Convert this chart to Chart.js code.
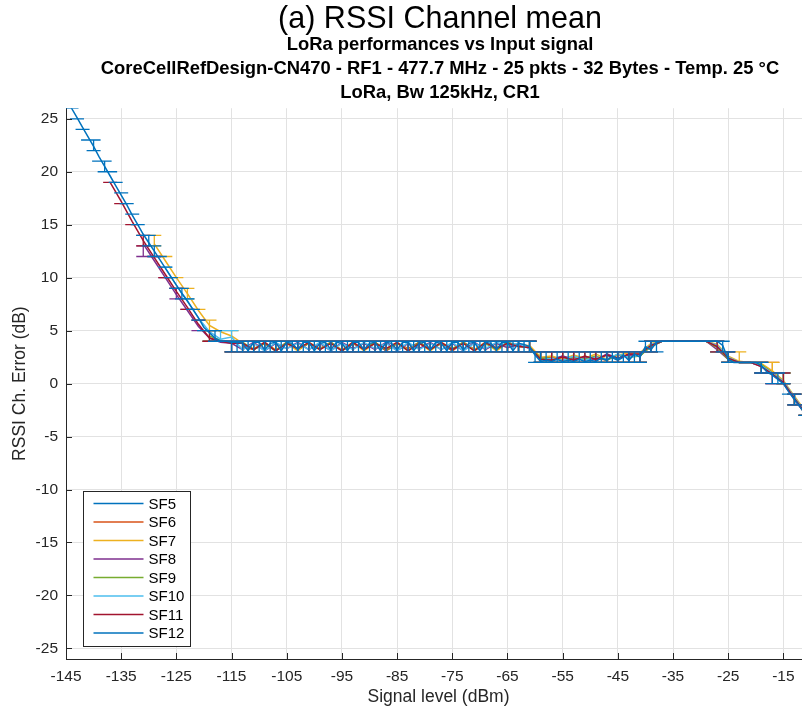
<!DOCTYPE html>
<html>
<head>
<meta charset="utf-8">
<script src="https://cdn.jsdelivr.net/npm/chart.js@4.4.1/dist/chart.umd.min.js"></script>
<style>
  html, body { margin: 0; padding: 0; overflow: hidden; background: #fff; }
  canvas { display: block; }
</style>
</head>
<body>
<canvas id="rssiChart" width="880" height="710"></canvas>
<script>
// tick labels
const xTicks = [-145, -135, -125, -115, -105, -95, -85, -75, -65, -55, -45, -35, -25, -15];
const yTicks = [-25, -20, -15, -10, -5, 0, 5, 10, 15, 20, 25];

// series names and first signal level of each sweep (dBm)
const sfNames = ['SF5', 'SF6', 'SF7', 'SF8', 'SF9', 'SF10', 'SF11', 'SF12'];
const sfStart = [-111, -113, -129, -131, -119, -127, -137, -145];
const sfStep = [2, 2, 2, 2, 2, 2, 2, 1];

// SF5
const sf5Mean = [3.2, 3.8, 3.1, 3.9, 3.2, 3.8, 3.3, 3.9, 3.1, 3.8, 3.2, 3.9, 3.1, 3.8, 3.3, 3.9, 3.2, 3.8, 3.1, 3.9, 3.2, 3.8, 3.3, 3.9, 3.6,
  3.4, 2.3, 2.3, 2.6, 2.2, 2.5, 2.3, 2.7, 2.2, 2.8, 2.7, 3.6, 4.0, 4.0, 4.0, 4.0, 4.0,
  3.5, 2.3, 2.0, 2.0, 1.7, 1.0, 0.1, -1.4, -2.8];
const sf5Lo = [3, 3, 3, 3, 3, 3, 3, 3, 3, 3, 3, 3, 3, 3, 3, 3, 3, 3, 3, 3, 3, 3, 3, 3, 3,
  3, 2, 2, 2, 2, 2, 2, 2, 2, 2, 2, 3, 4, 4, 4, 4, 4,
  3, 2, 2, 2, 1, 1, 0, -2, -3];
const sf5Hi = [4, 4, 4, 4, 4, 4, 4, 4, 4, 4, 4, 4, 4, 4, 4, 4, 4, 4, 4, 4, 4, 4, 4, 4, 4,
  4, 3, 3, 3, 3, 3, 3, 3, 3, 3, 3, 4, 4, 4, 4, 4, 4,
  4, 3, 2, 2, 2, 1, 1, -1, -2];

// SF6
const sf6Mean = [3.5, 3.2, 3.8, 3.1, 3.9, 3.2, 3.8, 3.3, 3.9, 3.1, 3.8, 3.2, 3.9, 3.1, 3.8, 3.3, 3.9, 3.2, 3.8, 3.1, 3.9, 3.2, 3.8, 3.4, 3.7, 3.5,
  3.5, 2.4, 2.5, 2.2, 2.6, 2.3, 2.4, 2.2, 2.7, 2.6, 2.6, 3.6, 4.0, 4.0, 4.0, 4.0, 4.0,
  3.6, 2.4, 2.0, 2.0, 1.8, 1.1, 0.2, -1.3, -2.7];
const sf6Lo = [3, 3, 3, 3, 3, 3, 3, 3, 3, 3, 3, 3, 3, 3, 3, 3, 3, 3, 3, 3, 3, 3, 3, 3, 3, 3,
  3, 2, 2, 2, 2, 2, 2, 2, 2, 2, 2, 3, 4, 4, 4, 4, 4,
  3, 2, 2, 2, 1, 1, 0, -2, -3];
const sf6Hi = [4, 4, 4, 4, 4, 4, 4, 4, 4, 4, 4, 4, 4, 4, 4, 4, 4, 4, 4, 4, 4, 4, 4, 4, 4, 4,
  4, 3, 3, 3, 3, 3, 3, 3, 3, 3, 3, 4, 4, 4, 4, 4, 4,
  4, 3, 2, 2, 2, 2, 1, -1, -2];

// SF7
const sf7Mean = [13.2, 11.6, 10.0, 8.5, 6.9, 5.5, 4.9, 4.5,
  3.8, 3.3, 3.9, 3.2, 3.8, 3.1, 3.9, 3.3, 3.8, 3.2, 3.9, 3.1, 3.8, 3.3, 3.9, 3.2, 3.8, 3.1, 3.9, 3.3, 3.8, 3.2, 3.9, 3.1, 3.8, 3.6,
  3.6, 2.5, 2.6, 2.3, 2.7, 2.4, 2.8, 2.3, 2.7, 2.9, 2.9, 3.8, 4.0, 4.0, 4.0, 4.0, 4.0,
  3.7, 2.6, 2.1, 2.0, 1.9, 1.2, 0.3, -1.2, -2.6];
const sf7Lo = [13, 12, 10, 8, 7, 5, 5, 4,
  3, 3, 3, 3, 3, 3, 3, 3, 3, 3, 3, 3, 3, 3, 3, 3, 3, 3, 3, 3, 3, 3, 3, 3, 3, 3,
  3, 2, 2, 2, 2, 2, 2, 2, 2, 2, 2, 3, 4, 4, 4, 4, 4,
  3, 2, 2, 2, 1, 1, 0, -2, -3];
const sf7Hi = [14, 12, 10, 9, 7, 6, 5, 5,
  4, 4, 4, 4, 4, 4, 4, 4, 4, 4, 4, 4, 4, 4, 4, 4, 4, 4, 4, 4, 4, 4, 4, 4, 4, 4,
  4, 3, 3, 3, 3, 3, 3, 3, 3, 3, 3, 4, 4, 4, 4, 4, 4,
  4, 3, 3, 2, 2, 2, 1, -1, -2];

// SF8
const sf8Mean = [13.2, 11.6, 10.0, 8.4, 6.9, 5.4, 4.3, 3.9, 3.8,
  3.2, 3.9, 3.1, 3.8, 3.3, 3.9, 3.2, 3.8, 3.1, 3.9, 3.3, 3.8, 3.2, 3.9, 3.1, 3.8, 3.3, 3.9, 3.2, 3.8, 3.1, 3.9, 3.2, 3.8, 3.4, 3.7,
  3.3, 2.3, 2.2, 2.6, 2.3, 2.5, 2.2, 2.8, 2.4, 2.7, 2.7, 3.5, 4.0, 4.0, 4.0, 4.0, 4.0,
  3.2, 2.3, 2.0, 2.0, 1.6, 0.9, 0.0, -1.5, -2.9];
const sf8Lo = [12, 12, 10, 8, 7, 5, 4, 4, 3,
  3, 3, 3, 3, 3, 3, 3, 3, 3, 3, 3, 3, 3, 3, 3, 3, 3, 3, 3, 3, 3, 3, 3, 3, 3, 3,
  3, 2, 2, 2, 2, 2, 2, 2, 2, 2, 2, 3, 4, 4, 4, 4, 4,
  3, 2, 2, 2, 1, 0, 0, -2, -3];
const sf8Hi = [13, 12, 10, 9, 7, 5, 4, 4, 4,
  4, 4, 4, 4, 4, 4, 4, 4, 4, 4, 4, 4, 4, 4, 4, 4, 4, 4, 4, 4, 4, 4, 4, 4, 4, 4,
  4, 3, 3, 3, 3, 3, 3, 3, 3, 3, 3, 4, 4, 4, 4, 4, 4,
  4, 3, 2, 2, 2, 1, 0, -1, -3];

// SF9
const sf9Mean = [4.5, 4.1, 3.9,
  3.9, 3.2, 3.8, 3.1, 3.9, 3.3, 3.8, 3.2, 3.9, 3.1, 3.8, 3.3, 3.9, 3.2, 3.8, 3.1, 3.9, 3.2, 3.8, 3.3, 3.9, 3.1, 3.8, 3.2, 3.9, 3.5,
  3.4, 2.4, 2.4, 2.2, 2.5, 2.3, 2.6, 2.2, 2.8, 2.5, 2.6, 3.5, 4.0, 4.0, 4.0, 4.0, 4.0,
  3.4, 2.3, 2.0, 2.0, 1.8, 1.0, 0.1, -1.4, -2.9];
const sf9Lo = [4, 4, 3,
  3, 3, 3, 3, 3, 3, 3, 3, 3, 3, 3, 3, 3, 3, 3, 3, 3, 3, 3, 3, 3, 3, 3, 3, 3, 3,
  3, 2, 2, 2, 2, 2, 2, 2, 2, 2, 2, 3, 4, 4, 4, 4, 4,
  3, 2, 2, 2, 1, 1, 0, -2, -3];
const sf9Hi = [5, 4, 4,
  4, 4, 4, 4, 4, 4, 4, 4, 4, 4, 4, 4, 4, 4, 4, 4, 4, 4, 4, 4, 4, 4, 4, 4, 4, 4,
  4, 3, 3, 3, 3, 3, 3, 3, 3, 3, 3, 4, 4, 4, 4, 4, 4,
  4, 3, 2, 2, 2, 1, 1, -1, -3];

// SF10
const sf10Mean = [10.9, 9.3, 7.8, 6.2, 4.9, 4.2, 4.4,
  3.2, 3.8, 3.1, 3.9, 3.3, 3.8, 3.2, 3.9, 3.1, 3.8, 3.2, 3.9, 3.3, 3.8, 3.1, 3.9, 3.2, 3.8, 3.2, 3.9, 3.1, 3.8, 3.3, 3.9, 3.6, 3.8,
  3.3, 2.2, 2.4, 2.2, 2.6, 2.2, 2.5, 2.3, 2.8, 2.5, 2.7, 3.7, 4.0, 4.0, 4.0, 4.0, 4.0,
  3.6, 2.5, 2.0, 2.0, 1.7, 1.0, 0.2, -1.3, -2.7];
const sf10Lo = [11, 9, 8, 6, 5, 4, 4,
  3, 3, 3, 3, 3, 3, 3, 3, 3, 3, 3, 3, 3, 3, 3, 3, 3, 3, 3, 3, 3, 3, 3, 3, 3, 3,
  3, 2, 2, 2, 2, 2, 2, 2, 2, 2, 2, 3, 4, 4, 4, 4, 4,
  3, 2, 2, 2, 1, 1, 0, -2, -3];
const sf10Hi = [11, 9, 8, 6, 5, 5, 5,
  4, 4, 4, 4, 4, 4, 4, 4, 4, 4, 4, 4, 4, 4, 4, 4, 4, 4, 4, 4, 4, 4, 4, 4, 4, 4,
  4, 3, 3, 3, 3, 3, 3, 3, 3, 3, 3, 4, 4, 4, 4, 4, 4,
  4, 3, 2, 2, 2, 1, 1, -1, -2];

// SF11
const sf11Mean = [19.0, 17.2, 15.3, 13.5, 11.9, 10.3, 8.7, 7.2, 5.6, 4.3, 4.0, 3.8,
  3.8, 3.2, 3.9, 3.1, 3.8, 3.3, 3.9, 3.2, 3.8, 3.1, 3.9, 3.2, 3.8, 3.3, 3.9, 3.1, 3.8, 3.2, 3.9, 3.2, 3.8, 3.1, 3.9, 3.3, 3.8, 3.5,
  3.4, 2.3, 2.2, 2.5, 2.2, 2.6, 2.3, 2.7, 2.4, 2.8, 2.8, 3.6, 4.0, 4.0, 4.0, 4.0, 4.0,
  3.5, 2.4, 2.0, 2.0, 1.6, 0.9, 0.1, -1.4, -2.8];
const sf11Lo = [19, 17, 15, 13, 12, 10, 9, 7, 6, 4, 4, 3,
  3, 3, 3, 3, 3, 3, 3, 3, 3, 3, 3, 3, 3, 3, 3, 3, 3, 3, 3, 3, 3, 3, 3, 3, 3, 3,
  3, 2, 2, 2, 2, 2, 2, 2, 2, 2, 2, 3, 4, 4, 4, 4, 4,
  3, 2, 2, 2, 1, 0, 0, -2, -3];
const sf11Hi = [19, 17, 15, 14, 12, 10, 9, 7, 6, 5, 4, 4,
  4, 4, 4, 4, 4, 4, 4, 4, 4, 4, 4, 4, 4, 4, 4, 4, 4, 4, 4, 4, 4, 4, 4, 4, 4, 4,
  4, 3, 3, 3, 3, 3, 3, 3, 3, 3, 3, 4, 4, 4, 4, 4, 4,
  4, 3, 2, 2, 2, 1, 1, -1, -2];

// SF12 (1 dBm steps)
const sf12Mean = [26.8, 26.0, 25.1, 24.2, 23.3, 22.4, 21.4, 20.5, 19.6, 18.7,
  17.8, 16.9, 15.9, 15.0, 14.1, 13.3, 12.5, 11.7, 10.9, 10.1,
  9.3, 8.5, 7.8, 7.0, 6.2, 5.3, 4.8, 4.3, 4.0, 4.0, 3.9,
  3.9, 3.8, 3.1, 3.9, 3.9, 3.2, 3.8, 3.9, 3.1, 3.9, 3.8, 3.2, 3.9, 3.9, 3.1, 3.8, 3.9, 3.2,
  3.9, 3.8, 3.1, 3.9, 3.9, 3.2, 3.8, 3.9, 3.1, 3.9, 3.8, 3.2, 3.9, 3.9, 3.1, 3.8, 3.9, 3.2,
  3.9, 3.8, 3.1, 3.9, 3.9, 3.2, 3.8, 3.9, 3.1, 3.9, 3.8, 3.2, 3.9, 3.9, 3.1, 3.8, 3.7,
  3.5, 2.7, 2.1,
  2.2, 2.1, 2.3, 2.1, 2.2, 2.1, 2.3, 2.1, 2.2, 2.1, 2.4, 2.2, 2.6, 2.3, 2.7, 2.2, 2.8, 2.5,
  3.5, 3.2, 3.9,
  4.0, 4.0, 4.0, 4.0, 4.0, 4.0, 4.0, 4.0, 4.0, 4.0, 4.0,
  3.6, 2.3, 2.0, 2.0, 2.0, 2.0, 2.0, 1.7, 1.1, 0.8, 0.4, 0.0, -0.8, -1.5, -2.2, -2.9];
const sf12Lo = [27, 26, 25, 24, 23, 22, 21, 20, 20, 19,
  18, 17, 16, 15, 14, 13, 12, 12, 11, 10,
  9, 8, 8, 7, 6, 5, 5, 4, 4, 4, 3,
  3, 3, 3, 3, 3, 3, 3, 3, 3, 3, 3, 3, 3, 3, 3, 3, 3, 3,
  3, 3, 3, 3, 3, 3, 3, 3, 3, 3, 3, 3, 3, 3, 3, 3, 3, 3,
  3, 3, 3, 3, 3, 3, 3, 3, 3, 3, 3, 3, 3, 3, 3, 3, 3,
  3, 2, 2,
  2, 2, 2, 2, 2, 2, 2, 2, 2, 2, 2, 2, 2, 2, 2, 2, 2, 2,
  3, 3, 3,
  4, 4, 4, 4, 4, 4, 4, 4, 4, 4, 4,
  3, 2, 2, 2, 2, 2, 2, 1, 1, 0, 0, 0, -1, -2, -2, -3];
const sf12Hi = [27, 26, 25, 24, 23, 23, 21, 21, 20, 19,
  18, 17, 16, 15, 14, 14, 13, 12, 11, 10,
  9, 9, 8, 7, 6, 5, 5, 5, 4, 4, 4,
  4, 4, 4, 4, 4, 4, 4, 4, 4, 4, 4, 4, 4, 4, 4, 4, 4, 4,
  4, 4, 4, 4, 4, 4, 4, 4, 4, 4, 4, 4, 4, 4, 4, 4, 4, 4,
  4, 4, 4, 4, 4, 4, 4, 4, 4, 4, 4, 4, 4, 4, 4, 4, 4,
  4, 3, 3,
  3, 2, 3, 2, 3, 2, 3, 2, 3, 2, 3, 3, 3, 3, 3, 3, 3, 3,
  4, 4, 4,
  4, 4, 4, 4, 4, 4, 4, 4, 4, 4, 4,
  4, 3, 2, 2, 2, 2, 2, 2, 1, 1, 1, 0, -1, -1, -2, -3];

const sfMean = [sf5Mean, sf6Mean, sf7Mean, sf8Mean, sf9Mean, sf10Mean, sf11Mean, sf12Mean];
const sfLo = [sf5Lo, sf6Lo, sf7Lo, sf8Lo, sf9Lo, sf10Lo, sf11Lo, sf12Lo];
const sfHi = [sf5Hi, sf6Hi, sf7Hi, sf8Hi, sf9Hi, sf10Hi, sf11Hi, sf12Hi];

// matlab default colour order (SF12 wraps back to the first colour)
const colors = ['#0072BD', '#D95319', '#EDB120', '#7E2F8E', '#77AC30', '#4DBEEE', '#A2142F', '#0072BD'];

const FONT = "'Liberation Sans', Arial, sans-serif";
const AXIS = '#262626';

const datasets = sfNames.map((name, s) => ({
  label: name,
  data: sfMean[s].map((m, i) => ({ x: sfStart[s] + i * sfStep[s], y: m, lo: sfLo[s][i], hi: sfHi[s][i] })),
  borderColor: colors[s],
  backgroundColor: colors[s],
  borderWidth: 1.5,
  pointRadius: 0,
  tension: 0,
  order: sfNames.length - 1 - s
}));

// vertical error bars with horizontal caps, drawn with each series
const errorBars = {
  id: 'errorBars',
  afterDatasetDraw(chart, args) {
    const ds = chart.data.datasets[args.index];
    const { ctx, chartArea: a, scales: { x, y } } = chart;
    const cap = 7;
    ctx.save();
    ctx.beginPath();
    ctx.rect(a.left, a.top, a.width, a.height);
    ctx.clip();
    ctx.strokeStyle = ds.borderColor;
    ctx.lineWidth = 1.3;
    ctx.beginPath();
    ds.data.forEach(p => {
      const px = x.getPixelForValue(p.x);
      const pl = y.getPixelForValue(p.lo);
      const ph = y.getPixelForValue(p.hi);
      ctx.moveTo(px, pl); ctx.lineTo(px, ph);
      ctx.moveTo(px - cap, pl); ctx.lineTo(px + cap, pl);
      ctx.moveTo(px - cap, ph); ctx.lineTo(px + cap, ph);
    });
    ctx.stroke();
    ctx.restore();
  }
};

// matlab style ticks pointing into the axes
const inwardTicks = {
  id: 'inwardTicks',
  afterDraw(chart) {
    const { ctx, chartArea: a, scales: { x, y } } = chart;
    ctx.save();
    ctx.strokeStyle = AXIS;
    ctx.lineWidth = 1;
    ctx.beginPath();
    x.ticks.forEach(t => {
      const px = Math.round(x.getPixelForValue(t.value)) + 0.5;
      ctx.moveTo(px, a.bottom); ctx.lineTo(px, a.bottom - 6);
    });
    y.ticks.forEach(t => {
      const py = Math.round(y.getPixelForValue(t.value)) + 0.5;
      ctx.moveTo(a.left, py); ctx.lineTo(a.left + 6, py);
    });
    ctx.stroke();
    ctx.restore();
  }
};

// boxed legend in the lower left corner of the axes
const boxLegend = {
  id: 'boxLegend',
  afterDraw(chart) {
    const { ctx, chartArea: a } = chart;
    const sets = chart.data.datasets;
    const w = 107, h = 155, rowH = 18.5;
    const x0 = Math.round(a.left + 17) + 0.5;
    const y0 = Math.round(a.bottom - 13 - h) + 0.5;
    ctx.save();
    ctx.fillStyle = '#fff';
    ctx.fillRect(x0, y0, w, h);
    ctx.strokeStyle = AXIS;
    ctx.lineWidth = 1;
    ctx.strokeRect(x0, y0, w, h);
    ctx.font = '15px ' + FONT;
    ctx.textBaseline = 'middle';
    sets.forEach((ds, i) => {
      const cy = y0 + 12 + i * rowH;
      ctx.strokeStyle = ds.borderColor;
      ctx.lineWidth = 1.5;
      ctx.beginPath();
      ctx.moveTo(x0 + 10, cy); ctx.lineTo(x0 + 60, cy);
      ctx.stroke();
      ctx.fillStyle = '#000';
      ctx.fillText(ds.label, x0 + 65, cy + 1);
    });
    ctx.restore();
  }
};

const ctx = document.getElementById('rssiChart').getContext('2d');
const rssiChart = new Chart(ctx, {
  type: 'line',
  data: { datasets: datasets },
  plugins: [errorBars, inwardTicks, boxLegend],
  options: {
    responsive: false,
    animation: false,
    layout: { padding: 0 },
    plugins: {
      legend: { display: false },
      tooltip: { enabled: false },
      title: {
        display: true,
        text: '(a) RSSI Channel mean',
        color: '#000',
        font: { family: FONT, size: 30.5, weight: 'normal', lineHeight: 0.9 },
        padding: { top: 6, bottom: 0 }
      },
      subtitle: {
        display: true,
        text: ['LoRa performances vs Input signal',
          'CoreCellRefDesign-CN470 - RF1 - 477.7 MHz - 25 pkts - 32 Bytes - Temp. 25 °C',
          'LoRa, Bw 125kHz, CR1'],
        color: '#000',
        font: { family: FONT, size: 18.4, weight: 'bold', lineHeight: 1.3 },
        padding: { top: 0, bottom: 3 }
      }
    },
    scales: {
      x: {
        type: 'linear',
        min: -145,
        max: -10,
        afterBuildTicks: scale => { scale.ticks = xTicks.map(v => ({ value: v })); },
        afterFit: scale => { scale.height = 51; },
        grid: { color: '#e2e2e2', drawTicks: false },
        border: { display: true, color: AXIS, width: 1 },
        ticks: { color: AXIS, font: { family: FONT, size: 15.5 }, padding: 8, maxRotation: 0, autoSkip: false },
        title: {
          display: true,
          text: 'Signal level (dBm)',
          color: AXIS,
          font: { family: FONT, size: 17.5 },
          padding: { top: 0, bottom: 2.5 }
        }
      },
      y: {
        type: 'linear',
        min: -26,
        max: 26,
        afterBuildTicks: scale => { scale.ticks = yTicks.map(v => ({ value: v })); },
        afterFit: scale => { scale.width = 66; },
        grid: { color: '#e2e2e2', drawTicks: false },
        border: { display: true, color: AXIS, width: 1 },
        ticks: { color: AXIS, font: { family: FONT, size: 15.5 }, padding: 8, autoSkip: false },
        title: {
          display: true,
          text: 'RSSI Ch. Error (dB)',
          color: AXIS,
          font: { family: FONT, size: 17.5 },
          padding: { top: 9.5, bottom: 0 }
        }
      },
      // empty right-hand strip: the axes continue past the cropped picture edge
      yRight: {
        type: 'linear',
        position: 'right',
        min: -26,
        max: 26,
        afterFit: scale => { scale.width = 69; },
        grid: { display: false, drawTicks: false },
        border: { display: false },
        ticks: { display: false }
      }
    }
  }
});
</script>
</body>
</html>
